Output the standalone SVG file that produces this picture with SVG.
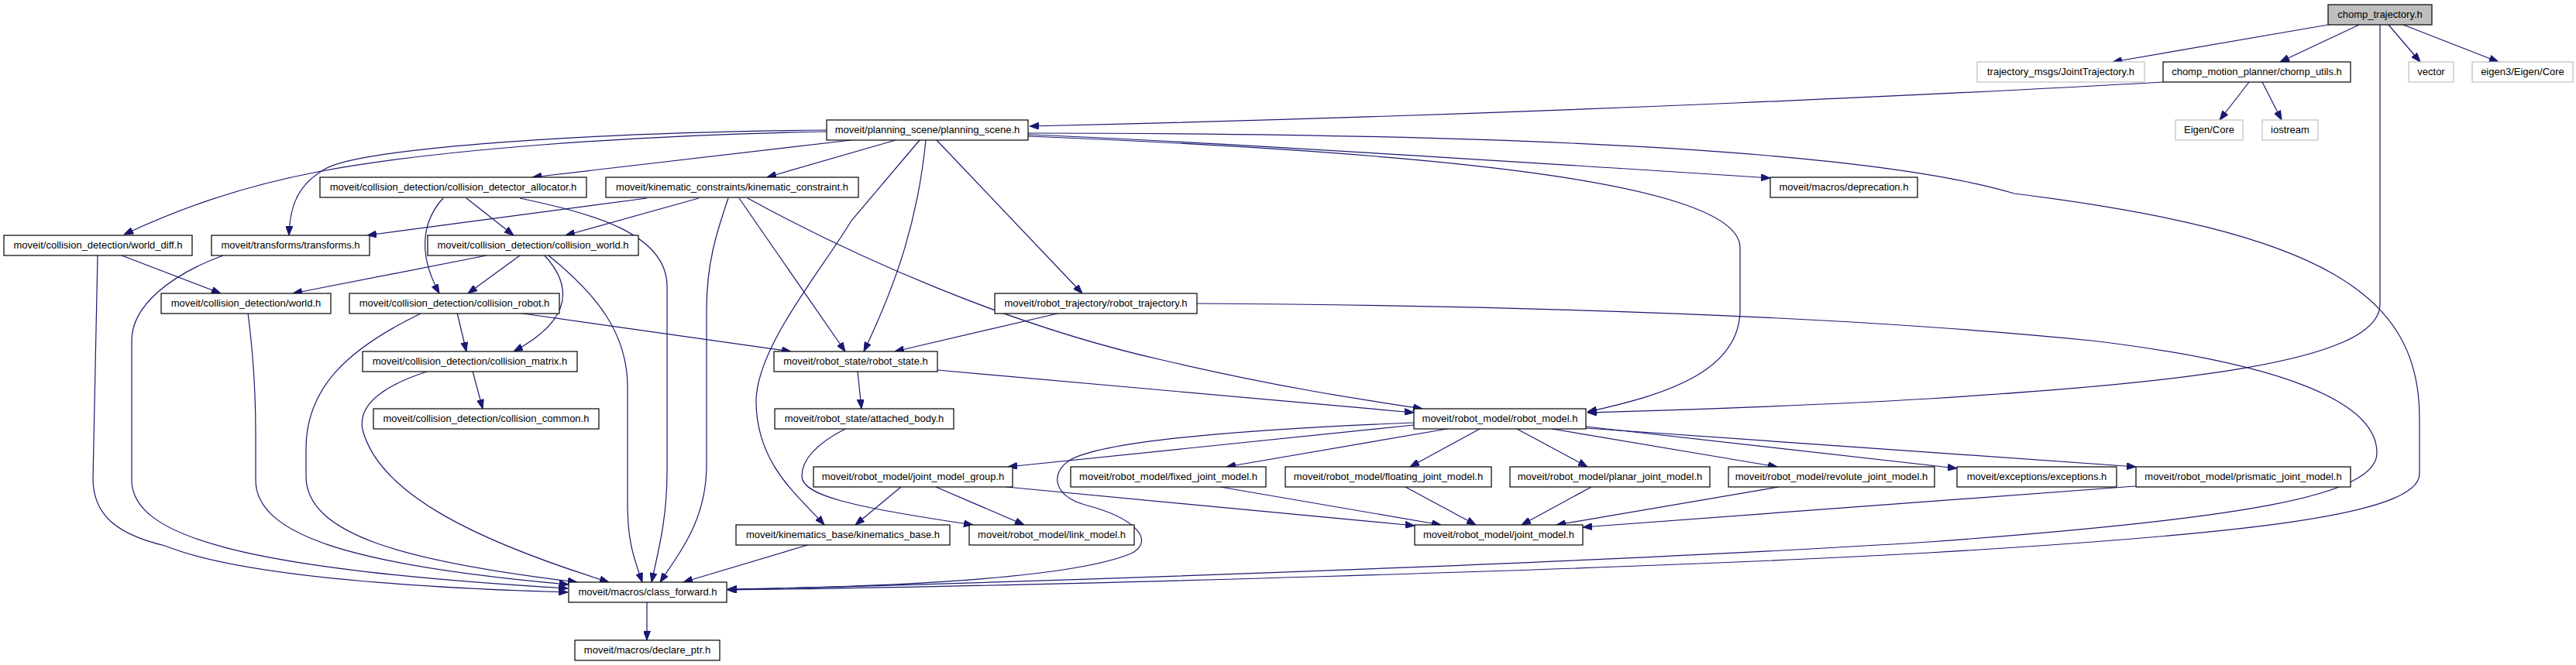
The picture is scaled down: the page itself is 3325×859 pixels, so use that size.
<svg xmlns="http://www.w3.org/2000/svg" width="3325" height="859" viewBox="0 0 3325 859">
<style>
.n rect{fill:#fff;stroke:#000;stroke-width:1.2}
.n.root rect{fill:#bfbfbf}
.n.ext rect{stroke:#bfbfbf}
.n text{font-family:"Liberation Sans",Arial,sans-serif;font-size:13px;fill:#000;text-anchor:middle}
#edges path{fill:none;stroke:#191970;stroke-width:1.2;marker-end:url(#a)}
</style>
<defs>
<marker id="a" markerWidth="12" markerHeight="9" refX="12" refY="4.5" orient="auto" markerUnits="userSpaceOnUse"><path d="M0,0 L12,4.5 L0,9 z" fill="#191970" stroke="#191970" stroke-width="1"/></marker>
</defs>
<rect width="3325" height="859" fill="#fff"/>
<g id="edges">
<path d="M3005,32 L2727,80"/>
<path d="M3045,32 L2943,80"/>
<path d="M3083,32 L3124,80"/>
<path d="M3102,32 L3225,80"/>
<path d="M3072,32 L3072,393 C3072,470 2800,495 2490,515 C2300,526 2150,530 2049,533"/>
<path d="M2903,106 L2865,155"/>
<path d="M2920,106 L2945,155"/>
<path d="M2792,106 C2600,117 2000,148 1329,163"/>
<path d="M1327,172 C1900,172 2400,190 2600,250 C3000,300 3123,380 3123,540 L3123,612 C3123,665 2900,690 2490,714 C2100,736 1300,758 939,762"/>
<path d="M1327,174 C1500,180 1900,205 2285,230"/>
<path d="M1327,176 C1800,195 2246,230 2246,320 L2246,400 C2246,480 2150,510 2049,532"/>
<path d="M1067,170 C800,175 550,195 410,222 C300,243 220,275 160,303"/>
<path d="M1067,168 C700,172 460,195 420,218 C385,238 374,265 373,304"/>
<path d="M1099,181 L687,229"/>
<path d="M1156,181 L990,229"/>
<path d="M1187,181 L1099,285 C1060,350 975,450 976,520 C977,600 1030,640 1064,678"/>
<path d="M1195,181 C1185,280 1160,360 1115,454"/>
<path d="M1209,181 L1397,379"/>
<path d="M835,256 L474,304"/>
<path d="M902,256 L730,304"/>
<path d="M940,256 C925,300 912,340 912,400 L912,600 C912,670 880,710 852,752"/>
<path d="M954,256 L1091,454"/>
<path d="M965,256 C1100,330 1300,420 1500,465 C1650,500 1750,515 1836,528"/>
<path d="M572,256 C550,280 535,320 567,379"/>
<path d="M602,256 L663,304"/>
<path d="M671,256 C760,275 861,300 861,370 L861,610 C861,670 850,710 841,752"/>
<path d="M628,330 L378,379"/>
<path d="M671,330 L604,379"/>
<path d="M703,330 C735,365 745,410 663,454"/>
<path d="M708,330 C770,380 810,430 810,500 L810,650 C810,700 818,720 829,752"/>
<path d="M157,330 L285,379"/>
<path d="M126,330 L120,620 C121,665 150,690 213,705 C300,740 500,758 733,765"/>
<path d="M288,330 C220,355 170,395 170,440 L170,620 C170,690 300,735 733,760"/>
<path d="M320,404 C326,450 330,500 330,560 L330,620 C330,690 450,730 734,755"/>
<path d="M590,404 L602,454"/>
<path d="M668,404 L1021,454"/>
<path d="M543,405 C450,450 395,500 395,580 L395,615 C395,690 520,725 745,752"/>
<path d="M610,479 L623,528"/>
<path d="M551,480 C490,500 462,525 468,555 C490,640 620,700 786,752"/>
<path d="M1365,405 L1155,454"/>
<path d="M1545,392 C2000,395 2400,410 2700,440 C2950,470 3068,520 3068,585 C3068,640 2900,670 2490,700 C2100,725 1400,750 939,762"/>
<path d="M1107,480 L1112,528"/>
<path d="M1210,478 L1825,533"/>
<path d="M1091,554 C1060,570 1035,590 1035,615 C1035,640 1100,655 1256,678"/>
<path d="M1825,549 L1301,603"/>
<path d="M1868,554 L1583,603"/>
<path d="M1910,554 L1820,603"/>
<path d="M1958,554 L2049,603"/>
<path d="M2003,554 L2294,603"/>
<path d="M2047,551 L2526,605"/>
<path d="M2047,553 L2757,603"/>
<path d="M1825,546 C1600,555 1420,570 1380,595 C1355,612 1360,640 1400,652 C1470,670 1490,700 1460,715 C1380,748 1150,758 939,761"/>
<path d="M1163,629 L1104,678"/>
<path d="M1208,629 L1322,678"/>
<path d="M1299,629 L1826,679"/>
<path d="M1575,629 L1860,678"/>
<path d="M1814,629 L1905,678"/>
<path d="M2054,629 L1964,678"/>
<path d="M2296,629 L2009,678"/>
<path d="M2756,628 L2043,681"/>
<path d="M1046,703 L882,752"/>
<path d="M835,778 L835,827"/>
</g>
<g id="n0" class="n root"><rect x="3005" y="6" width="134" height="26"/><text x="3072" y="23">chomp_trajectory.h</text></g>
<g id="n1" class="n ext"><rect x="2552" y="80" width="216" height="26"/><text x="2660" y="97">trajectory_msgs/JointTrajectory.h</text></g>
<g id="n2" class="n"><rect x="2792" y="80" width="242" height="26"/><text x="2913" y="97">chomp_motion_planner/chomp_utils.h</text></g>
<g id="n3" class="n ext"><rect x="3109" y="80" width="58" height="26"/><text x="3138" y="97">vector</text></g>
<g id="n4" class="n ext"><rect x="3191" y="80" width="130" height="26"/><text x="3256" y="97">eigen3/Eigen/Core</text></g>
<g id="n5" class="n ext"><rect x="2808" y="155" width="87" height="26"/><text x="2851.5" y="172">Eigen/Core</text></g>
<g id="n6" class="n ext"><rect x="2920" y="155" width="72" height="26"/><text x="2956" y="172">iostream</text></g>
<g id="n7" class="n"><rect x="1067" y="155" width="260" height="26"/><text x="1197" y="172">moveit/planning_scene/planning_scene.h</text></g>
<g id="n8" class="n"><rect x="413" y="229" width="344" height="26"/><text x="585" y="246">moveit/collision_detection/collision_detector_allocator.h</text></g>
<g id="n9" class="n"><rect x="782" y="229" width="326" height="26"/><text x="945" y="246">moveit/kinematic_constraints/kinematic_constraint.h</text></g>
<g id="n10" class="n"><rect x="2285" y="229" width="190" height="26"/><text x="2380" y="246">moveit/macros/deprecation.h</text></g>
<g id="n11" class="n"><rect x="5" y="304" width="243" height="26"/><text x="126.5" y="321">moveit/collision_detection/world_diff.h</text></g>
<g id="n12" class="n"><rect x="273" y="304" width="204" height="26"/><text x="375" y="321">moveit/transforms/transforms.h</text></g>
<g id="n13" class="n"><rect x="552" y="304" width="272" height="26"/><text x="688" y="321">moveit/collision_detection/collision_world.h</text></g>
<g id="n14" class="n"><rect x="208" y="379" width="219" height="26"/><text x="317.5" y="396">moveit/collision_detection/world.h</text></g>
<g id="n15" class="n"><rect x="451" y="379" width="271" height="26"/><text x="586.5" y="396">moveit/collision_detection/collision_robot.h</text></g>
<g id="n16" class="n"><rect x="1284" y="379" width="261" height="26"/><text x="1414.5" y="396">moveit/robot_trajectory/robot_trajectory.h</text></g>
<g id="n17" class="n"><rect x="468" y="454" width="277" height="26"/><text x="606.5" y="471">moveit/collision_detection/collision_matrix.h</text></g>
<g id="n18" class="n"><rect x="999" y="454" width="211" height="26"/><text x="1104.5" y="471">moveit/robot_state/robot_state.h</text></g>
<g id="n19" class="n"><rect x="482" y="528" width="291" height="26"/><text x="627.5" y="545">moveit/collision_detection/collision_common.h</text></g>
<g id="n20" class="n"><rect x="1000" y="528" width="231" height="26"/><text x="1115.5" y="545">moveit/robot_state/attached_body.h</text></g>
<g id="n21" class="n"><rect x="1825" y="528" width="222" height="26"/><text x="1936" y="545">moveit/robot_model/robot_model.h</text></g>
<g id="n22" class="n"><rect x="1050" y="603" width="257" height="26"/><text x="1178.5" y="620">moveit/robot_model/joint_model_group.h</text></g>
<g id="n23" class="n"><rect x="1382" y="603" width="252" height="26"/><text x="1508" y="620">moveit/robot_model/fixed_joint_model.h</text></g>
<g id="n24" class="n"><rect x="1659" y="603" width="266" height="26"/><text x="1792" y="620">moveit/robot_model/floating_joint_model.h</text></g>
<g id="n25" class="n"><rect x="1949" y="603" width="258" height="26"/><text x="2078" y="620">moveit/robot_model/planar_joint_model.h</text></g>
<g id="n26" class="n"><rect x="2231" y="603" width="266" height="26"/><text x="2364" y="620">moveit/robot_model/revolute_joint_model.h</text></g>
<g id="n27" class="n"><rect x="2526" y="603" width="206" height="26"/><text x="2629" y="620">moveit/exceptions/exceptions.h</text></g>
<g id="n28" class="n"><rect x="2757" y="603" width="277" height="26"/><text x="2895.5" y="620">moveit/robot_model/prismatic_joint_model.h</text></g>
<g id="n29" class="n"><rect x="950" y="678" width="276" height="26"/><text x="1088" y="695">moveit/kinematics_base/kinematics_base.h</text></g>
<g id="n30" class="n"><rect x="1251" y="678" width="213" height="26"/><text x="1357.5" y="695">moveit/robot_model/link_model.h</text></g>
<g id="n31" class="n"><rect x="1826" y="678" width="217" height="26"/><text x="1934.5" y="695">moveit/robot_model/joint_model.h</text></g>
<g id="n32" class="n"><rect x="734" y="752" width="204" height="26"/><text x="836" y="769">moveit/macros/class_forward.h</text></g>
<g id="n33" class="n"><rect x="742" y="827" width="187" height="26"/><text x="835.5" y="844">moveit/macros/declare_ptr.h</text></g>
</svg>
